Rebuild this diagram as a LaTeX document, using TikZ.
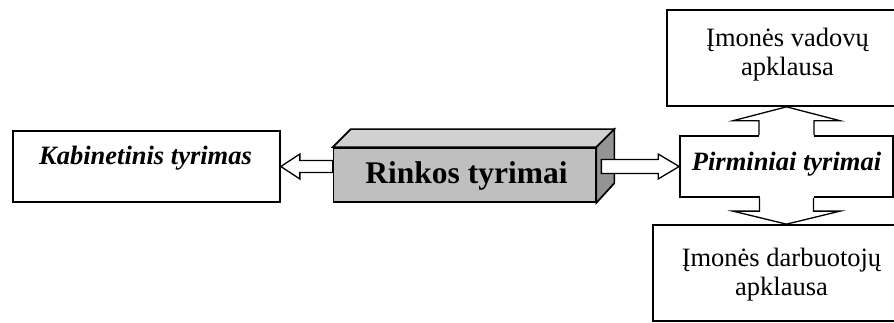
\documentclass[tikz,border=0pt]{standalone}
\usepackage{fontspec}
\setmainfont{Liberation Serif}
\usetikzlibrary{calc}
\begin{document}
\begin{tikzpicture}[x=1pt,y=-1pt,
  box/.style={draw,line width=1.7pt,fill=white,inner sep=0pt},
  txt/.style={font=\fontsize{26.5}{28.5}\selectfont,anchor=base,inner sep=0pt},
  arrowline/.style={line width=1.3pt,line join=miter},
  cube/.style={draw,line width=1.7pt,line join=miter}]
\useasboundingbox (0,0) rectangle (894,323);
\clip (0,0) rectangle (894,323);

% boxes
\node[box,minimum width=267pt,minimum height=71pt] (kab) at (146.5,166.5) {};
\node[box,minimum width=213pt,minimum height=61pt] (pirm) at (786.5,166.5) {};
\node[box,minimum width=241pt,minimum height=96pt] (vad) at (787.5,58) {};
\node[box,minimum width=257pt,minimum height=96pt] (darb) at (781.5,273) {};

% box captions
\node[txt] (kabt) at (145.5,165) {\textbf{\textit{Kabinetinis tyrimas}}};
\node[txt] (pirmt) at (786.5,170.5) {\textbf{\textit{Pirminiai tyrimai}}};
\node[txt] (vad1) at (787.5,46.7) {Įmonės vadovų};
\node[txt] (vad2) at (787.5,75.2) {apklausa};
\node[txt] (darb1) at (781.5,266.7) {Įmonės darbuotojų};
\node[txt] (darb2) at (781.5,295.2) {apklausa};

% central 3D block
\node[cube,fill=black!25,minimum width=262pt,minimum height=54pt,inner sep=0pt] (rink) at (464.5,175) {};
\node[font=\fontsize{31.5}{34}\selectfont\bfseries,anchor=base,inner sep=0pt] (rinkt)
  at (466.5,183.3) {Rinkos tyrimai};
\draw[cube,fill=black!18] (rink.north west) -- ++(18,-18) -- ($(rink.north east)+(18,-18)$)
  -- (rink.north east) -- cycle;
\draw[cube,fill=black!42] (rink.north east) -- ++(18,-18) -- ++(0,54)
  -- (rink.south east) -- cycle;

% left block arrow
\coordinate (lt) at (kab.east);
\draw[arrowline,fill=white] (lt) -- ++(19,-12.5) -- ++(0,6.5)
  -- ($(rink.west |- lt)+(0,-6)$) -- ++(0,12) -- ($(lt)+(19,6)$)
  -- ++(0,6.5) -- cycle;

% right block arrow
\coordinate (rt) at (pirm.west);
\draw[arrowline,fill=white] ($(rink.east |- rt)+(5,-7)$) -- ($(rt)+(-21,-7)$)
  -- ++(0,-5.5) -- (rt) -- ++(-21,12.5) -- ++(0,-5.5)
  -- ($(rink.east |- rt)+(5,7)$) -- cycle;

% up block arrow
\coordinate (ut) at (pirm.north |- vad.south);
\fill[white] ($(pirm.north)+(-27.5,2)$) -- ($(ut)+(-27.5,14)$) -- ($(ut)+(27.5,14)$)
  -- ($(pirm.north)+(27.5,2)$) -- cycle;
\draw[arrowline,fill=white] ($(pirm.north)+(-27.5,0)$) -- ($(ut)+(-27.5,14)$)
  -- ++(-26.5,0) -- (ut) -- ++(54,14) -- ++(-26.5,0) -- ($(pirm.north)+(27.5,0)$);

% down block arrow
\coordinate (dt) at (pirm.south |- darb.north);
\fill[white] ($(pirm.south)+(-27,-2)$) -- ($(dt)+(-27,-13)$) -- ($(dt)+(27,-13)$)
  -- ($(pirm.south)+(27,-2)$) -- cycle;
\draw[arrowline,fill=white] ($(pirm.south)+(-27,0)$) -- ($(dt)+(-27,-13)$)
  -- ++(-26.5,0) -- (dt) -- ++(53.5,-13) -- ++(-26.5,0) -- ($(pirm.south)+(27,0)$);
\end{tikzpicture}
\end{document}
